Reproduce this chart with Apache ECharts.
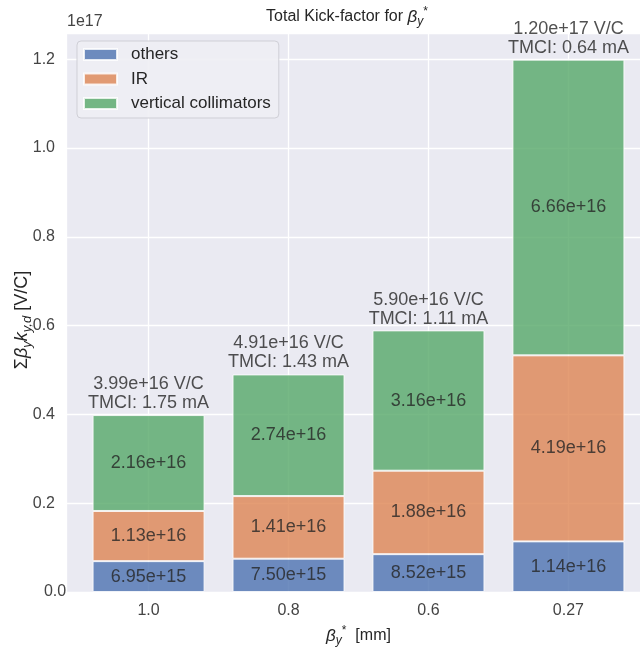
<!DOCTYPE html>
<html>
<head>
<meta charset="utf-8">
<script src="https://cdn.jsdelivr.net/npm/echarts@6/dist/echarts.min.js"></script>
<style>
  html, body { margin: 0; padding: 0; background: #fff; }
  #chart { width: 640px; height: 648px; }
</style>
</head>
<body>
<div id="chart"></div>
<script>
// beta_y* settings on the x axis
const categories = ['1.0', '0.8', '0.6', '0.27']
// kick-factor contributions [V/C]
const others = [6.95e15, 7.50e15, 8.52e15, 1.14e16]
const ir = [1.13e16, 1.41e16, 1.88e16, 4.19e16]
const vertColl = [2.16e16, 2.74e16, 3.16e16, 6.66e16]
// totals and TMCI threshold printed above each bar
const totals = [3.99e16, 4.91e16, 5.90e16, 1.20e17]
const tmci = [1.75, 1.43, 1.11, 0.64]

const FONT = '"Liberation Sans", Arial, Helvetica, sans-serif'
const TXT = '#262626'
const YMAX = 1.259e17

const chart = echarts.init(document.getElementById('chart'))

// plot frame (matplotlib style margins: -0.59 .. 3.59 in bar units)
const plotLeft = 66, plotTop = 33, plotW = 585, plotH = 559
const unit = plotW / 4.18
const barsLeft = plotLeft + (0.59 - 0.5) * unit

function segSeries(name, values, color) {
  return {
    name: name,
    type: 'bar',
    stack: 'kick',
    xAxisIndex: 1, yAxisIndex: 1,
    barWidth: '80%',
    data: values,
    itemStyle: { color: color, opacity: 0.8, borderColor: '#fff', borderWidth: 1 },
    label: {
      show: true,
      position: 'inside',
      color: TXT,
      fontFamily: FONT,
      fontSize: 18,
      formatter: (p) => p.value.toExponential(2)
    },
    emphasis: { disabled: true }
  }
}

const option = {
  backgroundColor: '#fff',
  animation: false,
  textStyle: { fontFamily: FONT },
  grid: [
    { left: plotLeft, top: plotTop, width: plotW, height: plotH, outerBoundsMode: 'none',
      show: true, backgroundColor: '#EAEAF2', borderWidth: 0 },
    { left: barsLeft, top: plotTop, width: 4 * unit, height: plotH, outerBoundsMode: 'none' }
  ],
  legend: {
    orient: 'vertical',
    left: 77, top: 41,
    padding: [5, 8, 6, 6],
    itemWidth: 33, itemHeight: 11, itemGap: 7.5,
    icon: 'rect',
    backgroundColor: 'rgba(238,238,244,0.9)',
    borderColor: '#cfcfd6', borderWidth: 1, borderRadius: 4,
    textStyle: { fontSize: 17, color: TXT, fontFamily: FONT, lineHeight: 17, padding: [0, 0, 0, 9] },
    data: ['others', 'IR', 'vertical collimators']
  },
  xAxis: [
    {
      gridIndex: 0,
      type: 'value',
      min: -0.59, max: 3.59,
      splitNumber: 4,
      axisLine: { show: false }, axisTick: { show: false },
      splitLine: { show: true, lineStyle: { color: '#fff', width: 1.3 } },
      axisLabel: {
        fontSize: 16, color: '#444', margin: 11, fontFamily: FONT,
        verticalAlign: 'top',
        formatter: (v) => (Number.isInteger(v) && categories[v] !== undefined) ? categories[v] : ''
      },
      name: '{b|β}{s|y}{p|*}{t|  [mm]}',
      nameLocation: 'middle', nameGap: 33,
      nameTextStyle: {
        rich: {
          b: { fontSize: 17, fontStyle: 'italic', color: TXT, fontFamily: FONT, lineHeight: 22 },
          s: { fontSize: 12, fontStyle: 'italic', color: TXT, fontFamily: FONT, lineHeight: 10, verticalAlign: 'bottom' },
          p: { fontSize: 12, color: TXT, fontFamily: FONT, lineHeight: 10, verticalAlign: 'top' },
          t: { fontSize: 16, color: TXT, fontFamily: FONT, lineHeight: 22 }
        }
      }
    },
    {
      gridIndex: 1,
      type: 'category',
      data: categories,
      show: false
    }
  ],
  yAxis: [
    {
      gridIndex: 0,
      type: 'value',
      min: 0, max: YMAX, interval: 2e16,
      axisLine: { show: false }, axisTick: { show: false },
      splitLine: { show: true, lineStyle: { color: '#fff', width: 1.3 } },
      axisLabel: {
        fontSize: 16, color: '#444', margin: 11, fontFamily: FONT, showMaxLabel: false,
        verticalAlign: 'middle', alignMinLabel: 'center',
        formatter: (v) => (v / 1e17).toFixed(1)
      }
    },
    {
      gridIndex: 1,
      type: 'value',
      min: 0, max: YMAX,
      show: false,
      splitLine: { show: false }
    }
  ],
  graphic: [
    {
      type: 'text', left: 67, top: 14,
      style: { text: '1e17', fontSize: 16, fill: '#444', fontFamily: FONT }
    },
    {
      // y axis title, rotated
      type: 'text', x: 22, y: 320, rotation: Math.PI / 2,
      style: {
        text: '{n|Σ}{i|β}{s|y}{i|k}{s|y,d}{n| [V/C]}',
        align: 'center', verticalAlign: 'middle',
        rich: {
          n: { fontSize: 18, fill: TXT, fontFamily: FONT, lineHeight: 24 },
          i: { fontSize: 18, fontStyle: 'italic', fill: TXT, fontFamily: FONT, lineHeight: 24 },
          s: { fontSize: 13, fontStyle: 'italic', fill: TXT, fontFamily: FONT, lineHeight: 11, verticalAlign: 'bottom' }
        }
      }
    },
    {
      type: 'text', x: 347, y: 17,
      style: {
        text: '{a|Total Kick-factor for }{b|β}{s|y}{p|*}',
        align: 'center', verticalAlign: 'middle',
        rich: {
          a: { fontSize: 16, fill: TXT, fontFamily: FONT, lineHeight: 22 },
          b: { fontSize: 17, fontStyle: 'italic', fill: TXT, fontFamily: FONT, lineHeight: 22 },
          s: { fontSize: 12, fontStyle: 'italic', fill: TXT, fontFamily: FONT, lineHeight: 10, verticalAlign: 'bottom' },
          p: { fontSize: 12, fill: TXT, fontFamily: FONT, lineHeight: 10, verticalAlign: 'top' }
        }
      }
    }
  ],
  series: [
    segSeries('others', others, '#4C72B0'),
    segSeries('IR', ir, '#DD8452'),
    segSeries('vertical collimators', vertColl, '#55A868'),
    {
      name: 'total',
      type: 'scatter',
      xAxisIndex: 1, yAxisIndex: 1,
      symbolSize: 0,
      data: totals,
      label: {
        show: true,
        position: 'top',
        distance: 2,
        color: TXT,
        fontFamily: FONT,
        fontSize: 18,
        lineHeight: 19,
        align: 'center',
        formatter: (p) => p.value.toExponential(2) + ' V/C\nTMCI: ' + tmci[p.dataIndex].toFixed(2) + ' mA'
      },
      emphasis: { disabled: true },
      z: 5
    }
  ]
}

chart.setOption(option)
</script>
</body>
</html>
